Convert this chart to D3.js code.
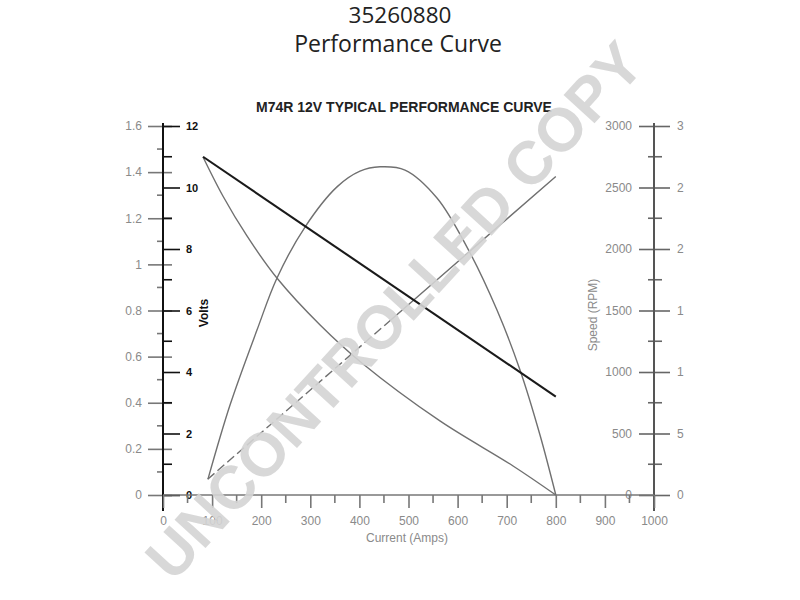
<!DOCTYPE html>
<html><head><meta charset="utf-8">
<script src="https://cdn.jsdelivr.net/npm/d3@7"></script>
<style>body{margin:0;background:#fff;} svg{display:block;font-family:"Liberation Sans",Arial,sans-serif;}</style>
</head><body><svg id="c" width="800" height="600"></svg>
<script>
// ---- data ----
const currentTicks = [0,100,200,300,400,500,600,700,800,900,1000];
const currentMinor = [50,150,250,350,450,550,650,750,850,950];
const powerTicks = [0,0.2,0.4,0.6,0.8,1,1.2,1.4,1.6];
const powerMinor = [0.1,0.3,0.5,0.7,0.9,1.1,1.3,1.5];
const voltTicks = [0,2,4,6,8,10,12];
const voltMinor = [1,3,5,7,9,11];
const speedTicks = [0,500,1000,1500,2000,2500,3000];
const speedMinor = [250,750,1250,1750,2250,2750];
const torqueTicks = [0,5,10,15,20,25,30];
const torqueTickLabels = ["0","5","1","1","2","2","3"]; // labels as visible (cut off at right edge)

// Volts (black straight line)
const voltsCurrent = [81.5, 800];
const voltsValues  = [11.0, 3.2];
// Speed (RPM)
const speedCurrent = [81.5, 122, 171, 232, 320, 405, 564, 713, 800];
const speedValues  = [2748, 2431, 2106, 1764, 1382, 1073, 602, 236, 0];
// Power (left 0-1.6 scale, arch)
const powerCurrent = [91.6, 136.5, 191.4, 232.2, 289.2, 354.4, 401.2, 441.9, 492.9, 558, 619.1, 680.2, 727.1, 767.8, 800];
const powerValues  = [0.069, 0.39, 0.715, 0.941, 1.162, 1.336, 1.404, 1.423, 1.409, 1.288, 1.075, 0.802, 0.542, 0.26, 0];
// Torque (0-30 scale, rising line)
const torqueCurrent = [91, 800];
const torqueValues  = [1.28, 25.9];

// ---- drawing ----
const svg = d3.select("#c");
const gray = "#8a8a8a";
const x  = d3.scaleLinear().domain([0,1000]).range([163,654]);
const yP = d3.scaleLinear().domain([0,1.6]).range([495,126]);
const yV = d3.scaleLinear().domain([0,12]).range([495,126]);
const yS = d3.scaleLinear().domain([0,3000]).range([495,126]);
const yT = d3.scaleLinear().domain([0,30]).range([495,126]);

// Titles (two lines in one text block)
const tt = svg.append("text").attr("text-anchor","middle")
  .style("font-family","'Open Sans',sans-serif").style("font-size","22.5px").attr("fill","#222");
tt.append("tspan").attr("x",400).attr("y",23).text("35260880");
tt.append("tspan").attr("x",398).attr("y",52).style("font-size","23px").text("Performance Curve");
svg.append("text").attr("x",404).attr("y",112).attr("text-anchor","middle")
  .style("font-size","14px").style("font-weight","bold").attr("fill","#222")
  .text("M74R 12V TYPICAL PERFORMANCE CURVE");

function styleAxis(g, col, lab, bold){
  g.select(".domain").remove();
  g.selectAll(".tick line").attr("stroke",col).attr("stroke-width",1.6);
  g.selectAll(".tick text").attr("fill",lab).style("font-size", bold? "11px":"12px")
    .style("font-weight", bold? "bold":"normal").style("font-family","'Liberation Sans',Arial,sans-serif");
}
const fmt = d3.format("d");

// left power axis (0-1.6)
const gP = svg.append("g").attr("transform","translate(163,0)")
  .call(d3.axisLeft(yP).tickValues(powerTicks).tickSize(15).tickPadding(6).tickFormat(d=>String(+d.toFixed(1))));
styleAxis(gP,"#777",gray,false);
gP.selectAll(".tick line").attr("x1",9);
gP.selectAll("line.pm").data(powerMinor).join("line").attr("class","pm")
  .attr("x1",-6).attr("x2",0).attr("y1",d=>yP(d)).attr("y2",d=>yP(d)).attr("stroke","#777").attr("stroke-width",1.6);

// volts axis
const gV = svg.append("g").attr("transform","translate(163,0)")
  .call(d3.axisRight(yV).tickValues(voltTicks).tickSize(17).tickPadding(6).tickFormat(fmt));
styleAxis(gV,"#111","#111",true);
gV.selectAll("line.vm").data(voltMinor).join("line").attr("class","vm")
  .attr("x1",0).attr("x2",9).attr("y1",d=>yV(d)).attr("y2",d=>yV(d)).attr("stroke","#111").attr("stroke-width",1.6);
svg.append("line").attr("x1",163).attr("x2",163).attr("y1",123).attr("y2",511).attr("stroke","#111").attr("stroke-width",2);

// speed axis (right)
const gS = svg.append("g").attr("transform","translate(654,0)")
  .call(d3.axisLeft(yS).tickValues(speedTicks).tickSize(15).tickPadding(7).tickFormat(fmt));
styleAxis(gS,"#666",gray,false);
gS.selectAll("line.sm").data(speedMinor).join("line").attr("class","sm")
  .attr("x1",-6).attr("x2",8).attr("y1",d=>yS(d)).attr("y2",d=>yS(d)).attr("stroke","#666").attr("stroke-width",1.6);
const gT = svg.append("g").attr("transform","translate(654,0)")
  .call(d3.axisRight(yT).tickValues(torqueTicks).tickSize(16).tickPadding(7).tickFormat((d,i)=>torqueTickLabels[i]));
styleAxis(gT,"#666",gray,false);
svg.append("line").attr("x1",654).attr("x2",654).attr("y1",123).attr("y2",511).attr("stroke","#555").attr("stroke-width",2);

// x axis
const gX = svg.append("g").attr("transform","translate(0,495)")
  .call(d3.axisBottom(x).tickValues(currentTicks).tickSize(13).tickPadding(8).tickFormat(fmt));
styleAxis(gX,"#777",gray,false);
gX.selectAll("line.xm").data(currentMinor).join("line").attr("class","xm")
  .attr("x1",d=>x(d)).attr("x2",d=>x(d)).attr("y1",0).attr("y2",8).attr("stroke","#777").attr("stroke-width",1.6);
svg.append("line").attr("x1",163).attr("x2",654).attr("y1",495).attr("y2",495).attr("stroke","#777").attr("stroke-width",1.6);

// axis titles
svg.append("text").attr("x",407).attr("y",542).attr("text-anchor","middle").attr("fill",gray)
  .style("font-size","12px").text("Current (Amps)");
svg.append("text").attr("transform","translate(208,313) rotate(-90)").attr("text-anchor","middle")
  .attr("fill","#111").style("font-size","12px").style("font-weight","bold").text("Volts");
svg.append("text").attr("transform","translate(597,315) rotate(-90)").attr("text-anchor","middle")
  .attr("fill",gray).style("font-size","12px").text("Speed (RPM)");

// series
const lineGen = (xs, ys, yScale, curve) => d3.line().x((d,i)=>x(xs[i])).y((d,i)=>yScale(ys[i])).curve(curve||d3.curveLinear)(xs);

svg.append("path").attr("d",lineGen(speedCurrent,speedValues,yS,d3.curveCatmullRom.alpha(0.5)))
  .attr("fill","none").attr("stroke","#707070").attr("stroke-width",1.4);
svg.append("path").attr("d",lineGen(powerCurrent,powerValues,yP,d3.curveCatmullRom.alpha(0.5)))
  .attr("fill","none").attr("stroke","#707070").attr("stroke-width",1.4);
const tPath = svg.append("path").attr("d",lineGen(torqueCurrent,torqueValues,yT))
  .attr("fill","none").attr("stroke","#707070").attr("stroke-width",1.4);
// dashed in the lower part, solid in the upper part
const L = tPath.node().getTotalLength();
let da = [], acc = 0;
while (acc < L*0.48) { da.push(9,4); acc += 13; }
da.push(L);
tPath.attr("stroke-dasharray", da.join(","));
svg.append("path").attr("d",lineGen(voltsCurrent,voltsValues,yV))
  .attr("fill","none").attr("stroke","#1a1a1a").attr("stroke-width",2.1);

// watermark
svg.append("text").attr("transform","translate(398,314) rotate(-47.5)").attr("text-anchor","middle")
  .attr("dominant-baseline","middle").attr("fill","#d4d4d4").attr("fill-opacity",0.9)
  .style("font-size","61px").style("font-weight","bold").style("font-family","'Liberation Sans',Arial,sans-serif")
  .text("UNCONTROLLED COPY");
</script></body></html>
